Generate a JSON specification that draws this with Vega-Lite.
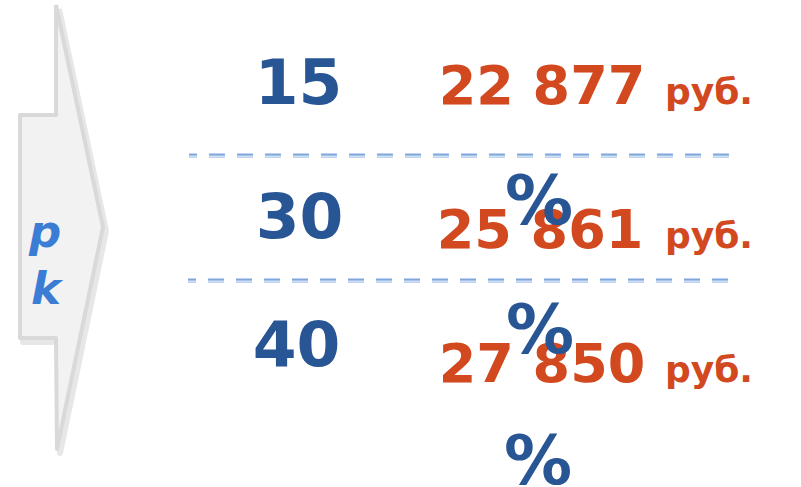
{
  "$schema": "https://vega.github.io/schema/vega-lite/v6.json",
  "width": 801,
  "height": 487,
  "autosize": {"type": "none"},
  "padding": 0,
  "background": "#ffffff",
  "config": {"view": {"stroke": null}},
  "datasets": {
    "arrow": [
      {"i": 0, "px": 56, "py": 5},
      {"i": 1, "px": 56, "py": 115},
      {"i": 2, "px": 20, "py": 115},
      {"i": 3, "px": 20, "py": 338},
      {"i": 4, "px": 56, "py": 338},
      {"i": 5, "px": 57, "py": 449},
      {"i": 6, "px": 103, "py": 227},
      {"i": 7, "px": 56, "py": 5}
    ],
    "dividers": [
      {"x1": 189, "x2": 734, "py": 155.5},
      {"x1": 188, "x2": 732, "py": 280.5}
    ],
    "letters": [
      {"t": "p", "px": 45, "py": 247},
      {"t": "k", "px": 46, "py": 304}
    ],
    "percents": [
      {"t": "15", "px": 298.5, "py": 104},
      {"t": "30", "px": 299.5, "py": 238},
      {"t": "40", "px": 296.5, "py": 366}
    ],
    "amounts": [
      {"t": "22 877", "px": 542, "py": 103.5},
      {"t": "25 861", "px": 540, "py": 248},
      {"t": "27 850", "px": 542, "py": 382}
    ],
    "units": [
      {"t": "руб.", "px": 665, "py": 103.5},
      {"t": "руб.", "px": 665, "py": 248},
      {"t": "руб.", "px": 665, "py": 382}
    ],
    "signs": [
      {"t": "%", "px": 539, "py": 224},
      {"t": "%", "px": 540, "py": 353},
      {"t": "%", "px": 538, "py": 484}
    ]
  },
  "encoding": {
    "x": {"field": "px", "type": "quantitative", "scale": {"domain": [0, 801], "nice": false, "zero": false}, "axis": null},
    "y": {"field": "py", "type": "quantitative", "scale": {"domain": [487, 0], "nice": false, "zero": false}, "axis": null}
  },
  "layer": [
    {
      "data": {"name": "arrow"},
      "mark": {"type": "line", "fill": "#b8b8b8", "stroke": "#c4c4c4", "strokeWidth": 6, "opacity": 0.4, "xOffset": 3, "yOffset": 4, "strokeJoin": "round"},
      "encoding": {"order": {"field": "i", "type": "quantitative"}}
    },
    {
      "data": {"name": "arrow"},
      "mark": {"type": "line", "fill": "#f2f2f2", "stroke": "#d9d9d9", "strokeWidth": 4, "strokeJoin": "round"},
      "encoding": {"order": {"field": "i", "type": "quantitative"}}
    },
    {
      "data": {"name": "dividers"},
      "mark": {"type": "rule", "stroke": "#7fa7dd", "strokeWidth": 4, "strokeDash": [16, 12], "strokeDashOffset": 8},
      "encoding": {"x": {"field": "x1", "type": "quantitative"}, "x2": {"field": "x2"}}
    },
    {
      "data": {"name": "dividers"},
      "mark": {"type": "rule", "stroke": "#cfe0f5", "strokeWidth": 1.5, "strokeDash": [16, 12], "strokeDashOffset": 8, "yOffset": 0.75},
      "encoding": {"x": {"field": "x1", "type": "quantitative"}, "x2": {"field": "x2"}}
    },
    {
      "data": {"name": "letters"},
      "mark": {"type": "text", "font": "DejaVu Sans", "fontWeight": "bold", "fontStyle": "italic", "fontSize": 45, "fill": "#3b7dd4", "align": "center", "baseline": "alphabetic"},
      "encoding": {"text": {"field": "t"}}
    },
    {
      "data": {"name": "percents"},
      "mark": {"type": "text", "font": "DejaVu Sans", "fontWeight": "bold", "fontSize": 63, "fill": "#285594", "align": "center", "baseline": "alphabetic"},
      "encoding": {"text": {"field": "t"}}
    },
    {
      "data": {"name": "amounts"},
      "mark": {"type": "text", "font": "DejaVu Sans", "fontWeight": "bold", "fontSize": 54, "fill": "#d2481f", "align": "center", "baseline": "alphabetic"},
      "encoding": {"text": {"field": "t"}}
    },
    {
      "data": {"name": "units"},
      "mark": {"type": "text", "font": "DejaVu Sans", "fontWeight": "bold", "fontSize": 36, "fill": "#d2481f", "align": "left", "baseline": "alphabetic"},
      "encoding": {"text": {"field": "t"}}
    },
    {
      "data": {"name": "signs"},
      "mark": {"type": "text", "font": "DejaVu Sans", "fontWeight": "bold", "fontSize": 68, "fill": "#285594", "align": "center", "baseline": "alphabetic"},
      "encoding": {"text": {"field": "t"}}
    }
  ]
}
